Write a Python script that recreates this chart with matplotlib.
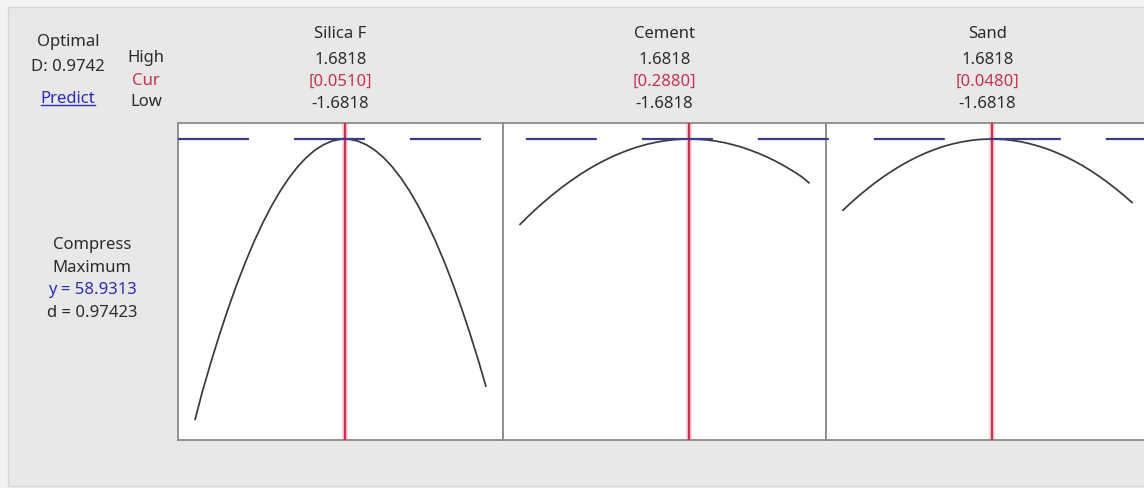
import matplotlib
matplotlib.use("Agg")
import matplotlib.pyplot as plt
from matplotlib import transforms
from matplotlib.lines import Line2D
from matplotlib.patches import Rectangle

# ---- data -----------------------------------------------------------------
factors = ["Silica F", "Cement", "Sand"]
level_high = 1.6818
level_low = -1.6818
current = [0.0510, 0.2880, 0.0480]

response_name = "Compress"
goal = "Maximum"
y_pred = 58.9313
d_value = 0.97423
composite_d = 0.9742

silica_x = [-1.6818, -1.6, -1.5, -1.4, -1.3, -1.2, -1.1, -1.0, -0.9, -0.8, -0.7, -0.6,
            -0.5, -0.4, -0.3, -0.2, -0.1, 0.0, 0.051, 0.1, 0.2, 0.3, 0.4, 0.5, 0.6,
            0.7, 0.8, 0.9, 1.0, 1.1, 1.2, 1.3, 1.4, 1.5, 1.6, 1.6818]
silica_y = [30.90, 33.61, 36.58, 39.37, 41.97, 44.39, 46.62, 48.67, 50.53, 52.20, 53.69, 54.99,
            56.11, 57.04, 57.79, 58.34, 58.72, 58.91, 58.93, 58.91, 58.72, 58.35, 57.80, 57.06, 56.13,
            55.02, 53.72, 52.23, 50.56, 48.71, 46.67, 44.44, 42.02, 39.42, 36.64, 34.22]

cement_x = [-1.6818, -1.6, -1.5, -1.4, -1.3, -1.2, -1.1, -1.0, -0.9, -0.8, -0.7, -0.6,
            -0.5, -0.4, -0.3, -0.2, -0.1, 0.0, 0.1, 0.2, 0.288, 0.4, 0.5, 0.6,
            0.7, 0.8, 0.9, 1.0, 1.1, 1.2, 1.3, 1.4, 1.5, 1.6, 1.6818]
cement_y = [50.39, 51.09, 51.90, 52.66, 53.38, 54.06, 54.69, 55.28, 55.83, 56.33, 56.78, 57.20,
            57.56, 57.89, 58.17, 58.41, 58.60, 58.75, 58.85, 58.91, 58.93, 58.90, 58.83, 58.72,
            58.56, 58.35, 58.11, 57.81, 57.48, 57.10, 56.68, 56.21, 55.70, 55.14, 54.55]

sand_x = [-1.6818, -1.6, -1.5, -1.4, -1.3, -1.2, -1.1, -1.0, -0.9, -0.8, -0.7, -0.6,
          -0.5, -0.4, -0.3, -0.2, -0.1, 0.0, 0.048, 0.1, 0.2, 0.3, 0.4, 0.5, 0.6,
          0.7, 0.8, 0.9, 1.0, 1.1, 1.2, 1.3, 1.4, 1.5, 1.6, 1.6818]
sand_y = [51.81, 52.47, 53.23, 53.94, 54.61, 55.22, 55.79, 56.32, 56.79, 57.22, 57.60, 57.93,
          58.22, 58.45, 58.64, 58.78, 58.88, 58.92, 58.93, 58.92, 58.88, 58.78, 58.64, 58.44, 58.20,
          57.92, 57.58, 57.20, 56.77, 56.30, 55.77, 55.20, 54.58, 53.91, 53.20, 52.58]

curves_x = [silica_x, cement_x, sand_x]
curves_y = [silica_y, cement_y, sand_y]

# ---- layout ---------------------------------------------------------------
W, H = 1144, 489
plt.rcParams["font.family"] = ["Noto Sans", "DejaVu Sans"]
plt.rcParams["lines.scale_dashes"] = False

fig = plt.figure(figsize=(W / 100, H / 100), dpi=100, facecolor="#f2f2f2")


def fx(px):
    return px / W


def fy(py):
    return 1 - py / H


fig.patches.append(Rectangle((fx(8), fy(487)), 1.0, fy(8) - fy(487),
                             transform=fig.transFigure, facecolor="#e8e8e8",
                             edgecolor="#d6d6d6", lw=1.0, zorder=-5))

panels = [(178, 503), (503, 826), (826, 1149)]
top_px, bot_px = 124, 441
XLIM = (-1.88, 1.88)
YLIM = (28.83, 60.53)

TXT = "#2b2b2b"
RED = "#c8314f"
BLUE = "#2a2ab8"
FS = 12

axes = []
for i, (l, r) in enumerate(panels):
    ax = fig.add_axes([fx(l), fy(bot_px), fx(r) - fx(l), (bot_px - top_px) / H])
    ax.set_facecolor("white")
    ax.set_xlim(*XLIM)
    ax.set_ylim(*YLIM)
    ax.set_xticks([])
    ax.set_yticks([])
    for s in ax.spines.values():
        s.set_color("#8a8a8a")
        s.set_linewidth(1.3)
    ax.plot(curves_x[i], curves_y[i], color="#3a3a3a", lw=1.25, zorder=3,
            solid_joinstyle="round")
    ax.axvline(current[i], color="#f6dde2", lw=4.5, zorder=1)
    ax.axvline(current[i], color=RED, lw=1.7, zorder=4)
    axes.append(ax)

    cx = fx((l + r) / 2)
    fig.text(cx, fy(34), factors[i], ha="center", va="center", fontsize=FS, color=TXT)
    fig.text(cx, fy(60), f"{level_high:.4f}", ha="center", va="center", fontsize=FS, color=TXT)
    fig.text(cx, fy(82), f"[{current[i]:.4f}]", ha="center", va="center", fontsize=FS, color=RED)
    fig.text(cx, fy(104), f"{level_low:.4f}", ha="center", va="center", fontsize=FS, color=TXT)

# predicted response reference line running across all panels
blend = transforms.blended_transform_factory(fig.transFigure, axes[0].transData)
fig.add_artist(Line2D([fx(178), fx(1149)], [y_pred, y_pred], transform=blend,
                      color="#3c3c8c", lw=1.6, dashes=(51.1, 32.4), zorder=5))

# left-hand summary block
fig.text(fx(68), fy(42), "Optimal", ha="center", va="center", fontsize=FS, color=TXT)
fig.text(fx(68), fy(67), f"D: {composite_d:.4f}", ha="center", va="center", fontsize=FS, color=TXT)
pred = fig.text(fx(68), fy(99), "Predict", ha="center", va="center", fontsize=FS, color=BLUE)
fig.text(fx(146), fy(58), "High", ha="center", va="center", fontsize=FS, color=TXT)
fig.text(fx(146), fy(81), "Cur", ha="center", va="center", fontsize=FS, color=RED)
fig.text(fx(146), fy(102), "Low", ha="center", va="center", fontsize=FS, color=TXT)

fig.canvas.draw()
bb = pred.get_window_extent(fig.canvas.get_renderer())
fig.add_artist(Line2D([bb.x0 / W, bb.x1 / W], [(bb.y0 + 1) / H, (bb.y0 + 1) / H],
                      transform=fig.transFigure, color=BLUE, lw=1.0))

fig.text(fx(92), fy(245), response_name, ha="center", va="center", fontsize=FS, color=TXT)
fig.text(fx(92), fy(268), goal, ha="center", va="center", fontsize=FS, color=TXT)
fig.text(fx(92), fy(290), f"y = {y_pred:.4f}", ha="center", va="center", fontsize=FS, color=BLUE)
fig.text(fx(92), fy(313), f"d = {d_value:.5f}", ha="center", va="center", fontsize=FS, color=TXT)

fig.savefig("out.png", dpi=100, facecolor=fig.get_facecolor())
